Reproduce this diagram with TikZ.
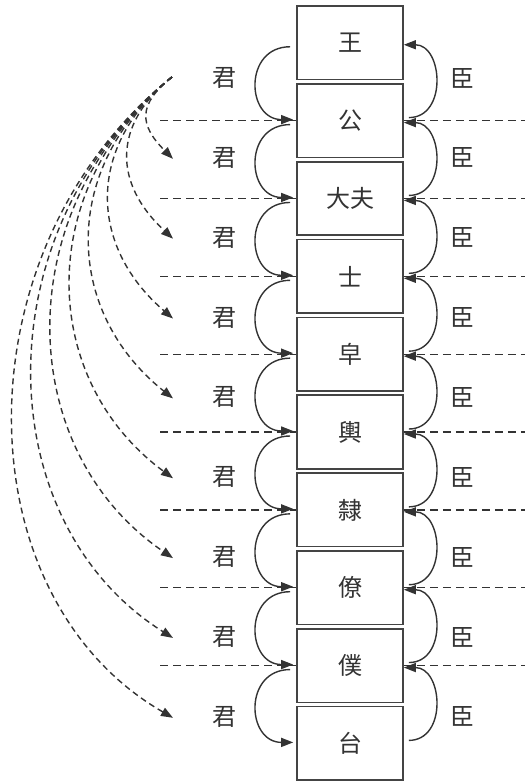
\documentclass[tikz,border=0pt]{standalone}
\usepackage{fontspec}
\newfontfamily\cjk{Noto Sans CJK SC}
\usetikzlibrary{arrows.meta}
\definecolor{ink}{HTML}{333333}
\definecolor{boxline}{HTML}{444444}
\begin{document}
\begin{tikzpicture}[x=1pt,y=-1pt,
  box/.style={draw=boxline, line width=1.6pt, minimum width=106pt, minimum height=73.5pt, inner sep=0pt, font=\cjk\fontsize{24}{24}\selectfont, text=ink},
  lbl/.style={font=\cjk\fontsize{24}{24}\selectfont, text=ink, inner sep=0pt},
  cur/.style={draw=ink, line width=1.4pt, -{Triangle[length=12pt,width=9pt]}},
  hdash/.style={draw=ink, line width=1.3pt, dash pattern=on 8pt off 5pt},
  fan/.style={draw=ink, line width=1.4pt, dash pattern=on 6pt off 4pt, -{Triangle[length=12pt,width=9pt]}},
]
\useasboundingbox (0,0) rectangle (525,782);
% boxes
\foreach \t [count=\i from 0] in {王,公,大夫,士,皁,輿,隸,僚,僕,台}
  \node[box] (b\i) at (350,{42.75+77.85*\i}) {\t};
% labels
\foreach \i in {0,...,8} {
  \node[lbl] (j\i) at (224,{78+79.85*\i}) {君};
  \node[lbl] (c\i) at (462,{78+79.85*\i}) {臣};
}
% horizontal dashed lines
\foreach \i in {1,...,8} {
  \coordinate (hl\i) at (160,{42.75+77.85*\i});
  \coordinate (hr\i) at (525,{42.75+77.85*\i});
  \draw[hdash] (hl\i) -- (b\i.west);
  \draw[hdash] (b\i.east) -- (hr\i);
}
% left and right curves
\foreach \i [evaluate=\i as \j using int(\i+1)] in {0,...,8} {
  \draw[cur] ([xshift=-6pt,yshift=-4pt]b\i.west) to[out=180,in=180,distance=47pt] ([xshift=-3pt,yshift=1pt]b\j.west);
  \draw[cur] ([xshift=5pt,yshift=3pt]b\j.east) to[out=0,in=0,distance=39pt] ([yshift=-2pt]b\i.east);
}
% fan of dashed curves
\coordinate (fs) at (172,77);
\foreach \k in {1,...,8} {
  \pgfmathsetmacro\yt{78+79.85*\k+1}
  \pgfmathsetmacro\kk{0.32*(\yt-77)+8}
  \pgfmathsetmacro\th{45-15*(\k-1)/7}
  \coordinate (fe\k) at (173,\yt);
  \draw[fan] (fs) .. controls ({172-\kk},{77+0.8*\kk}) and ({173-\kk},{\yt-\kk*tan(\th)}) .. (fe\k);
}
\end{tikzpicture}
\end{document}
